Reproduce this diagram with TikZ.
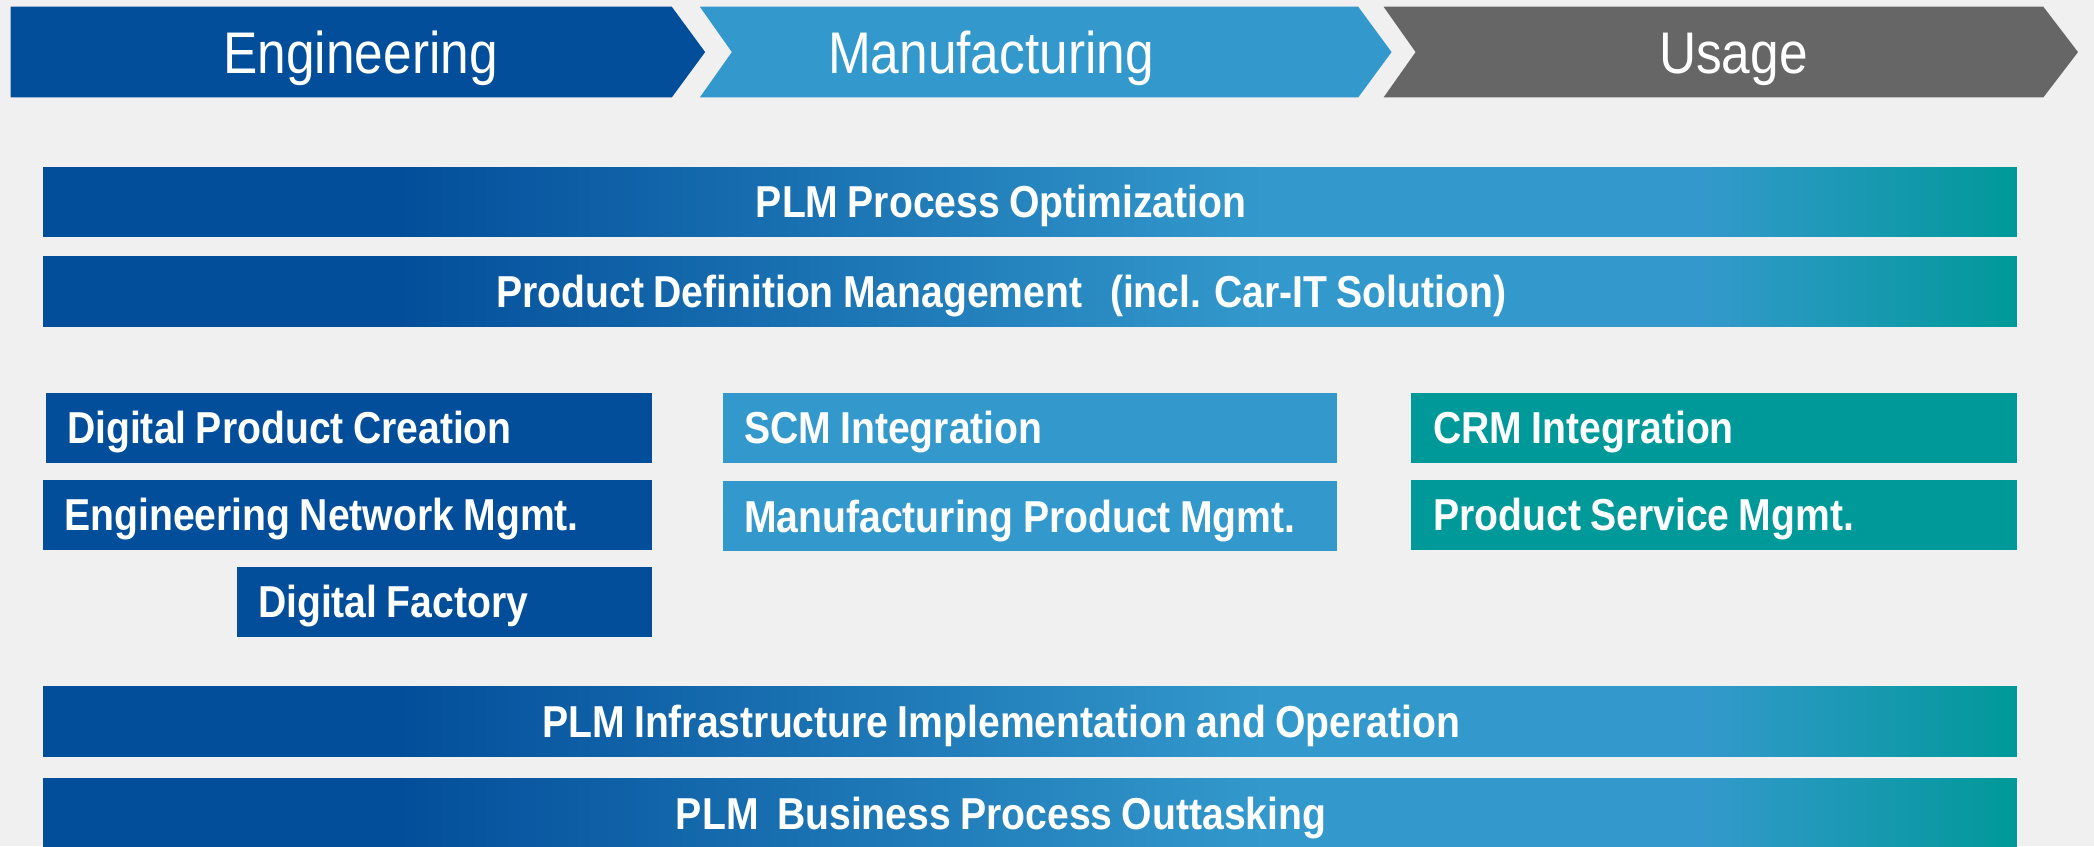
\documentclass[tikz,border=0pt]{standalone}
\usepackage{fontspec}
\setmainfont{Liberation Sans}[FakeStretch=0.875, WordSpace=0.85]
\definecolor{engblue}{RGB}{3,78,154}
\definecolor{mfgblue}{RGB}{51,153,204}
\definecolor{usegray}{RGB}{102,102,102}
\definecolor{tealc}{RGB}{0,153,153}
\definecolor{bggray}{RGB}{240,240,240}
\pgfdeclarehorizontalshading{barshade}{100bp}{color(0bp)=(engblue); color(25bp)=(engblue); color(34bp)=(engblue); color(56bp)=(mfgblue); color(67bp)=(mfgblue); color(75bp)=(tealc); color(100bp)=(tealc)}
\newcommand{\barshift}{\hspace*{-43pt}}
\newcommand{\lefttext}[2]{\makebox[#1][l]{#2}}
\begin{document}
\begin{tikzpicture}[x=1pt,y=-1pt,
  phasetext/.style={text=white, inner sep=0pt, anchor=base, font=\fontsize{44pt}{50pt}\selectfont},
  bar/.style={rectangle, anchor=north west, inner sep=0pt, minimum width=1478pt, minimum height=52pt,
    text height=24pt, text depth=0pt, shading=barshade, text=white, font=\fontsize{33.5pt}{40pt}\selectfont\bfseries},
  box/.style={rectangle, anchor=north west, inner ysep=0pt, inner xsep=16pt, minimum height=52.5pt,
    text height=24pt, text depth=0pt, text=white, font=\fontsize{33.5pt}{40pt}\selectfont\bfseries},
  engbox/.style={box, fill=engblue},
  mfgbox/.style={box, fill=mfgblue},
  usebox/.style={box, fill=tealc}
]
\useasboundingbox (0,0) rectangle (1568,633.5);
\fill[bggray] (0,0) rectangle (1568,633.5);

% phase chevrons
\fill[engblue] (8,5) -- (503,5) -- (528,39) -- (503,73) -- (8,73) -- cycle;
\fill[mfgblue] (524,5) -- (1017,5) -- (1042,39) -- (1017,73) -- (524,73) -- (548,39) -- cycle;
\fill[usegray] (1036,5) -- (1530,5) -- (1556,39) -- (1530,73) -- (1036,73) -- (1060,39) -- cycle;
\node[phasetext] (teng) at (270,55) {Engineering};
\node[phasetext] (tmfg) at (742,55) {Manufacturing};
\node[phasetext] (tuse) at (1298,55) {Usage};

% full-width bars
\node[bar] (pmo) at (32,125) {\barshift PLM Process Optimization};
\node[bar] (pdm) at (32,192) {\barshift Product Definition Management~~~(incl. Car-IT Solution)};
\node[bar] (infra) at (32,514) {\barshift PLM Infrastructure Implementation and Operation};
\node[bar] (bpo) at (32,583) {\barshift PLM~~Business Process Outtasking};

% engineering boxes
\node[engbox] (dpc) at (34,294) {\lefttext{422pt}{Digital Product Creation}};
\node[engbox] (enm) at (32,359) {\lefttext{424pt}{Engineering Network Mgmt.}};
\node[engbox] (df) at (177,424) {\lefttext{279pt}{Digital Factory}};

% manufacturing boxes
\node[mfgbox] (scm) at (541,294) {\lefttext{428pt}{SCM Integration}};
\node[mfgbox] (mpm) at (541,360) {\lefttext{428pt}{Manufacturing Product Mgmt.}};

% usage boxes
\node[usebox, inner xsep=17pt] (crm) at (1056,294) {\lefttext{420pt}{CRM Integration}};
\node[usebox, inner xsep=17pt] (psm) at (1056,359) {\lefttext{420pt}{Product Service Mgmt.}};
\end{tikzpicture}
\end{document}
